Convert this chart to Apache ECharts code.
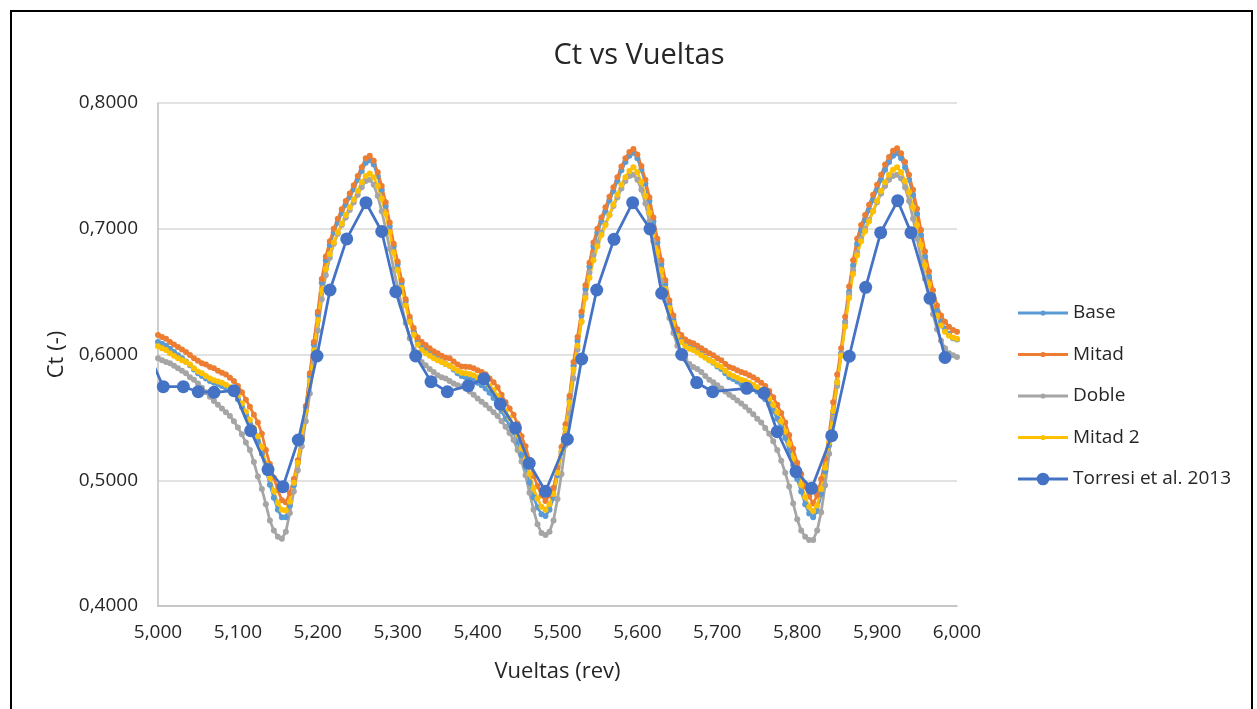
<!DOCTYPE html>
<html>
<head>
<meta charset="utf-8">
<title>Ct vs Vueltas</title>
<script src="https://cdn.jsdelivr.net/npm/echarts@6/dist/echarts.min.js"></script>
<style>
  html, body { margin: 0; padding: 0; background: #ffffff; }
  #chart { width: 1257px; height: 709px; }
</style>
</head>
<body>
<div id="chart"></div>
<script>
// Revolutions grid of the CFD samples (every 0.005 rev from 5.000 to 6.000)
const turns = Array.from({ length: 201 }, (_, i) => +(5 + i * 0.005).toFixed(3));

const seriesNames = ['Base', 'Mitad', 'Doble', 'Mitad 2', 'Torresi et al. 2013'];
const xTicks = [5.0, 5.1, 5.2, 5.3, 5.4, 5.5, 5.6, 5.7, 5.8, 5.9, 6.0];
const yTicks = [0.4, 0.5, 0.6, 0.7, 0.8];

// Ct, mesh "Base"
const ctBase = [
  0.610, 0.6085, 0.607, 0.6045, 0.602, 0.5995, 0.597, 0.5945, 0.5915, 0.588,
  0.585, 0.583, 0.581, 0.579, 0.5775, 0.5765, 0.575, 0.5735, 0.5715, 0.5685,
  0.5645, 0.5585, 0.552, 0.545, 0.538, 0.531, 0.521, 0.5085, 0.4965, 0.486,
  0.4765, 0.4705, 0.4705, 0.480, 0.496, 0.514, 0.534, 0.558, 0.583, 0.608,
  0.632, 0.657, 0.675, 0.687, 0.697, 0.705, 0.7125, 0.719, 0.725, 0.7315,
  0.739, 0.746, 0.7525, 0.7545, 0.751, 0.742, 0.731, 0.718, 0.702, 0.686,
  0.672, 0.657, 0.642, 0.628, 0.6185, 0.6105, 0.6065, 0.6035, 0.601, 0.5985,
  0.5965, 0.5945, 0.5925, 0.591, 0.588, 0.585, 0.583, 0.582, 0.581, 0.5795,
  0.5775, 0.5755, 0.573, 0.5695, 0.5655, 0.561, 0.555, 0.549, 0.5435, 0.538,
  0.5305, 0.520, 0.5105, 0.4985, 0.4865, 0.4785, 0.473, 0.4715, 0.4765, 0.486,
  0.504, 0.522, 0.541, 0.564, 0.591, 0.611, 0.631, 0.652, 0.670, 0.686,
  0.697, 0.706, 0.714, 0.7225, 0.730, 0.738, 0.7465, 0.753, 0.758, 0.7605,
  0.756, 0.747, 0.736, 0.722, 0.706, 0.689, 0.672, 0.656, 0.640, 0.628,
  0.617, 0.6115, 0.608, 0.6055, 0.6045, 0.6025, 0.6005, 0.598, 0.5955, 0.5935,
  0.5905, 0.5885, 0.585, 0.582, 0.5805, 0.5785, 0.5765, 0.5755, 0.574, 0.5725,
  0.5705, 0.5675, 0.5645, 0.5605, 0.555, 0.549, 0.5415, 0.5335, 0.5235, 0.512,
  0.501, 0.491, 0.481, 0.4735, 0.4705, 0.4755, 0.489, 0.507, 0.528, 0.554,
  0.578, 0.601, 0.626, 0.650, 0.671, 0.688, 0.699, 0.707, 0.715, 0.723,
  0.731, 0.739, 0.747, 0.753, 0.758, 0.760, 0.756, 0.749, 0.739, 0.727,
  0.712, 0.695, 0.678, 0.662, 0.647, 0.635, 0.626, 0.6205, 0.6165, 0.613,
  0.612
];

// Ct, mesh "Mitad"
const ctMitad = [
  0.6155, 0.614, 0.6125, 0.610, 0.608, 0.606, 0.604, 0.602, 0.5996, 0.597,
  0.595, 0.593, 0.592, 0.590, 0.589, 0.587, 0.5855, 0.584, 0.5815, 0.579,
  0.575, 0.570, 0.564, 0.5585, 0.552, 0.546, 0.537, 0.524, 0.513, 0.502,
  0.492, 0.484, 0.4825, 0.490, 0.501, 0.516, 0.534, 0.559, 0.585, 0.610,
  0.634, 0.660, 0.678, 0.690, 0.700, 0.708, 0.7155, 0.722, 0.728, 0.7345,
  0.742, 0.749, 0.756, 0.758, 0.754, 0.745, 0.734, 0.721, 0.705, 0.688,
  0.674, 0.659, 0.644, 0.630, 0.621, 0.6135, 0.610, 0.6075, 0.605, 0.6025,
  0.601, 0.599, 0.5975, 0.597, 0.5945, 0.592, 0.5905, 0.5902, 0.590, 0.589,
  0.5875, 0.586, 0.5842, 0.581, 0.578, 0.574, 0.568, 0.562, 0.557, 0.552,
  0.545, 0.535, 0.527, 0.516, 0.5035, 0.4955, 0.488, 0.4835, 0.488, 0.494,
  0.510, 0.5265, 0.5445, 0.567, 0.594, 0.614, 0.634, 0.655, 0.673, 0.689,
  0.700, 0.709, 0.717, 0.7255, 0.733, 0.741, 0.7495, 0.756, 0.761, 0.7635,
  0.759, 0.750, 0.739, 0.725, 0.709, 0.692, 0.675, 0.659, 0.643, 0.631,
  0.620, 0.6155, 0.612, 0.610, 0.609, 0.607, 0.605, 0.603, 0.601, 0.5995,
  0.597, 0.5955, 0.5925, 0.590, 0.589, 0.5875, 0.586, 0.585, 0.5835, 0.582,
  0.580, 0.5775, 0.575, 0.571, 0.566, 0.560, 0.5535, 0.546, 0.536, 0.525,
  0.514, 0.505, 0.495, 0.487, 0.4815, 0.488, 0.501, 0.517, 0.537, 0.562,
  0.584, 0.605, 0.630, 0.654, 0.675, 0.692, 0.703, 0.711, 0.719, 0.727,
  0.735, 0.743, 0.751, 0.757, 0.762, 0.764, 0.760, 0.753, 0.743, 0.731,
  0.716, 0.699, 0.682, 0.666, 0.651, 0.639, 0.631, 0.626, 0.622, 0.6195,
  0.618
];

// Ct, mesh "Doble"
const ctDoble = [
  0.597, 0.5955, 0.594, 0.593, 0.591, 0.589, 0.587, 0.585, 0.582, 0.580,
  0.577, 0.5735, 0.570, 0.5665, 0.563, 0.560, 0.557, 0.554, 0.551, 0.547,
  0.542, 0.5365, 0.530, 0.524, 0.5145, 0.503, 0.493, 0.481, 0.468, 0.460,
  0.455, 0.4535, 0.459, 0.474, 0.491, 0.508, 0.527, 0.547, 0.569, 0.594,
  0.619, 0.644, 0.663, 0.677, 0.688, 0.696, 0.703, 0.709, 0.715, 0.721,
  0.727, 0.733, 0.738, 0.739, 0.735, 0.726, 0.714, 0.700, 0.684, 0.668,
  0.653, 0.639, 0.625, 0.613, 0.604, 0.598, 0.594, 0.5915, 0.5885, 0.586,
  0.5835, 0.582, 0.581, 0.579, 0.577, 0.5755, 0.5745, 0.573, 0.5705, 0.568,
  0.565, 0.5625, 0.560, 0.557, 0.554, 0.551, 0.547, 0.5425, 0.5375, 0.532,
  0.524, 0.515, 0.504, 0.490, 0.4765, 0.465, 0.458, 0.4565, 0.459, 0.468,
  0.485, 0.505, 0.528, 0.553, 0.581, 0.604, 0.626, 0.648, 0.665, 0.679,
  0.689, 0.697, 0.704, 0.711, 0.718, 0.725, 0.732, 0.738, 0.742, 0.743,
  0.739, 0.731, 0.720, 0.706, 0.690, 0.674, 0.658, 0.643, 0.629, 0.617,
  0.607, 0.600, 0.596, 0.5925, 0.590, 0.5885, 0.586, 0.583, 0.580, 0.578,
  0.5755, 0.573, 0.5705, 0.568, 0.566, 0.5635, 0.561, 0.5585, 0.5555, 0.5525,
  0.549, 0.546, 0.5415, 0.537, 0.531, 0.524, 0.5155, 0.506, 0.495, 0.4815,
  0.469, 0.460, 0.455, 0.4525, 0.4525, 0.460, 0.4745, 0.496, 0.521, 0.549,
  0.575, 0.600, 0.625, 0.648, 0.667, 0.681, 0.692, 0.700, 0.707, 0.714,
  0.721, 0.728, 0.734, 0.739, 0.742, 0.743, 0.740, 0.733, 0.722, 0.708,
  0.692, 0.676, 0.660, 0.645, 0.632, 0.620, 0.611, 0.605, 0.601, 0.5995,
  0.598
];

// Ct, mesh "Mitad 2"
const ctMitad2 = [
  0.6065, 0.605, 0.6035, 0.601, 0.599, 0.597, 0.5955, 0.594, 0.592, 0.589,
  0.5865, 0.585, 0.583, 0.581, 0.5795, 0.5785, 0.5775, 0.576, 0.574, 0.571,
  0.567, 0.561, 0.5545, 0.548, 0.5415, 0.535, 0.5265, 0.5135, 0.502, 0.4915,
  0.482, 0.4765, 0.476, 0.483, 0.498, 0.514, 0.533, 0.555, 0.579, 0.603,
  0.627, 0.651, 0.668, 0.680, 0.689, 0.697, 0.704, 0.711, 0.717, 0.723,
  0.730, 0.737, 0.742, 0.744, 0.741, 0.734, 0.724, 0.712, 0.697, 0.681,
  0.667, 0.653, 0.639, 0.626, 0.616, 0.608, 0.6035, 0.601, 0.599, 0.597,
  0.5955, 0.594, 0.5925, 0.591, 0.589, 0.587, 0.5855, 0.585, 0.5845, 0.5835,
  0.582, 0.5805, 0.578, 0.575, 0.5715, 0.567, 0.561, 0.555, 0.5495, 0.544,
  0.536, 0.5255, 0.5165, 0.505, 0.4935, 0.4855, 0.479, 0.4765, 0.481, 0.489,
  0.506, 0.523, 0.541, 0.562, 0.588, 0.607, 0.626, 0.645, 0.661, 0.675,
  0.686, 0.695, 0.703, 0.711, 0.719, 0.727, 0.735, 0.741, 0.746, 0.749,
  0.745, 0.737, 0.726, 0.713, 0.698, 0.682, 0.667, 0.652, 0.637, 0.625,
  0.615, 0.610, 0.6065, 0.6045, 0.6035, 0.6015, 0.5995, 0.5975, 0.5955, 0.594,
  0.5915, 0.590, 0.587, 0.5845, 0.583, 0.5815, 0.580, 0.579, 0.5775, 0.576,
  0.574, 0.5715, 0.569, 0.565, 0.560, 0.554, 0.547, 0.539, 0.529, 0.5175,
  0.5065, 0.4965, 0.4865, 0.479, 0.4755, 0.480, 0.493, 0.510, 0.530, 0.555,
  0.578, 0.599, 0.622, 0.645, 0.664, 0.679, 0.690, 0.698, 0.706, 0.714,
  0.722, 0.730, 0.737, 0.743, 0.747, 0.749, 0.745, 0.738, 0.729, 0.717,
  0.703, 0.687, 0.671, 0.656, 0.642, 0.631, 0.623, 0.618, 0.615, 0.6135,
  0.6125
];

// Reference experiment (Torresi et al. 2013): revolutions and Ct
const torresiTurns = [
  4.9887, 5.0066, 5.0317, 5.0504, 5.0701, 5.0951, 5.1160, 5.1377, 5.1564, 5.1756,
  5.1990, 5.2153, 5.2362, 5.2603, 5.2800, 5.2976, 5.3225, 5.3417, 5.3621, 5.3884,
  5.4080, 5.4284, 5.4474, 5.4646, 5.4850, 5.5123, 5.5303, 5.5491, 5.5707, 5.5941,
  5.6158, 5.6304, 5.6554, 5.6742, 5.6942, 5.7368, 5.7584, 5.7751, 5.7985, 5.8181,
  5.8432, 5.8652, 5.8857, 5.9045, 5.9258, 5.9424, 5.9662, 5.9850
];
const torresiCt = [
  0.6000, 0.5744, 0.5744, 0.5704, 0.5699, 0.5712, 0.5394, 0.5085, 0.4949, 0.5320,
  0.5988, 0.6513, 0.6919, 0.7207, 0.6978, 0.6499, 0.5988, 0.5784, 0.5704, 0.5752,
  0.5808, 0.5606, 0.5416, 0.5135, 0.4912, 0.5326, 0.5964, 0.6513, 0.6916, 0.7207,
  0.6998, 0.6487, 0.6000, 0.5777, 0.5704, 0.5731, 0.5692, 0.5386, 0.5068, 0.4936,
  0.5354, 0.5986, 0.6534, 0.6969, 0.7223, 0.6969, 0.6447, 0.5976
];

const colors = {
  'Base': '#5B9BD5',
  'Mitad': '#ED7D31',
  'Doble': '#A5A5A5',
  'Mitad 2': '#FFC000',
  'Torresi et al. 2013': '#4472C4'
};

const FONT = '"Open Sans", "Noto Sans", sans-serif';
const TEXT = '#262626';

function pair(xs, ys) { return xs.map((x, i) => [x, ys[i]]); }

// legend glyphs: a line with a dot in the middle (bounding box 50 x 14)
function lineDot(r) {
  return 'path://M0,0 M50,14 M0,5.6 L50,5.6 L50,8.4 L0,8.4 Z ' +
    'M' + (25 + r) + ',7 A' + r + ',' + r + ' 0 1,1 ' + (25 - r) + ',7 A' + r + ',' + r + ' 0 1,1 ' + (25 + r) + ',7 Z';
}

function cfdSeries(name, values) {
  return {
    name: name,
    type: 'line',
    data: pair(turns, values),
    symbol: 'circle',
    symbolSize: 6,
    lineStyle: { width: 2.75, color: colors[name] },
    itemStyle: { color: colors[name] },
    emphasis: { disabled: true },
    z: 2
  };
}

const chart = echarts.init(document.getElementById('chart'), null, { renderer: 'canvas' });

chart.setOption({
  animation: false,
  backgroundColor: '#ffffff',
  title: {
    text: 'Ct vs Vueltas',
    left: 634,
    textAlign: 'center',
    top: 36,
    textStyle: { fontFamily: FONT, fontSize: 29, fontWeight: 'normal', color: TEXT }
  },
  grid: { left: 158, right: 300, top: 103, bottom: 103 },
  legend: {
    orient: 'vertical',
    left: 1018,
    top: 303,
    padding: 0,
    itemGap: 21.5,
    itemWidth: 50,
    itemHeight: 14,
    textStyle: { fontFamily: FONT, fontSize: 19, color: TEXT, lineHeight: 20 },
    data: seriesNames.map(n => ({
      name: n,
      icon: lineDot(n === 'Torresi et al. 2013' ? 6.3 : 2.6)
    }))
  },
  xAxis: {
    type: 'value',
    min: xTicks[0],
    max: xTicks[xTicks.length - 1],
    interval: 0.1,
    name: 'Vueltas (rev)',
    nameLocation: 'middle',
    nameGap: 55,
    nameTextStyle: { fontFamily: FONT, fontSize: 22, color: TEXT },
    axisLine: { show: true, lineStyle: { color: '#BFBFBF', width: 1.5 } },
    axisTick: { show: false },
    splitLine: { show: false },
    axisLabel: {
      fontFamily: FONT, fontSize: 19, color: TEXT, margin: 17,
      formatter: v => v.toFixed(3).replace('.', ',')
    }
  },
  yAxis: {
    type: 'value',
    min: yTicks[0],
    max: yTicks[yTicks.length - 1],
    interval: 0.1,
    name: 'Ct (-)',
    nameLocation: 'middle',
    nameGap: 90,
    nameTextStyle: { fontFamily: FONT, fontSize: 22, color: TEXT },
    axisLine: { show: true, lineStyle: { color: '#BFBFBF', width: 1.5 } },
    axisTick: { show: false },
    splitLine: { show: true, lineStyle: { color: '#D9D9D9', width: 1.5 } },
    axisLabel: {
      fontFamily: FONT, fontSize: 19, color: TEXT, margin: 20,
      formatter: v => v.toFixed(4).replace('.', ',')
    }
  },
  graphic: [{
    type: 'rect',
    silent: true,
    shape: { x: 11, y: 11, width: 1241, height: 740 },
    style: { fill: 'none', stroke: '#000000', lineWidth: 2 },
    z: 100
  }],
  series: [
    cfdSeries('Base', ctBase),
    cfdSeries('Mitad', ctMitad),
    cfdSeries('Doble', ctDoble),
    cfdSeries('Mitad 2', ctMitad2),
    {
      name: 'Torresi et al. 2013',
      type: 'line',
      data: pair(torresiTurns, torresiCt),
      symbol: 'circle',
      symbolSize: 13,
      lineStyle: { width: 2.75, color: colors['Torresi et al. 2013'] },
      itemStyle: { color: colors['Torresi et al. 2013'] },
      emphasis: { disabled: true },
      z: 3
    }
  ]
});
</script>
</body>
</html>
